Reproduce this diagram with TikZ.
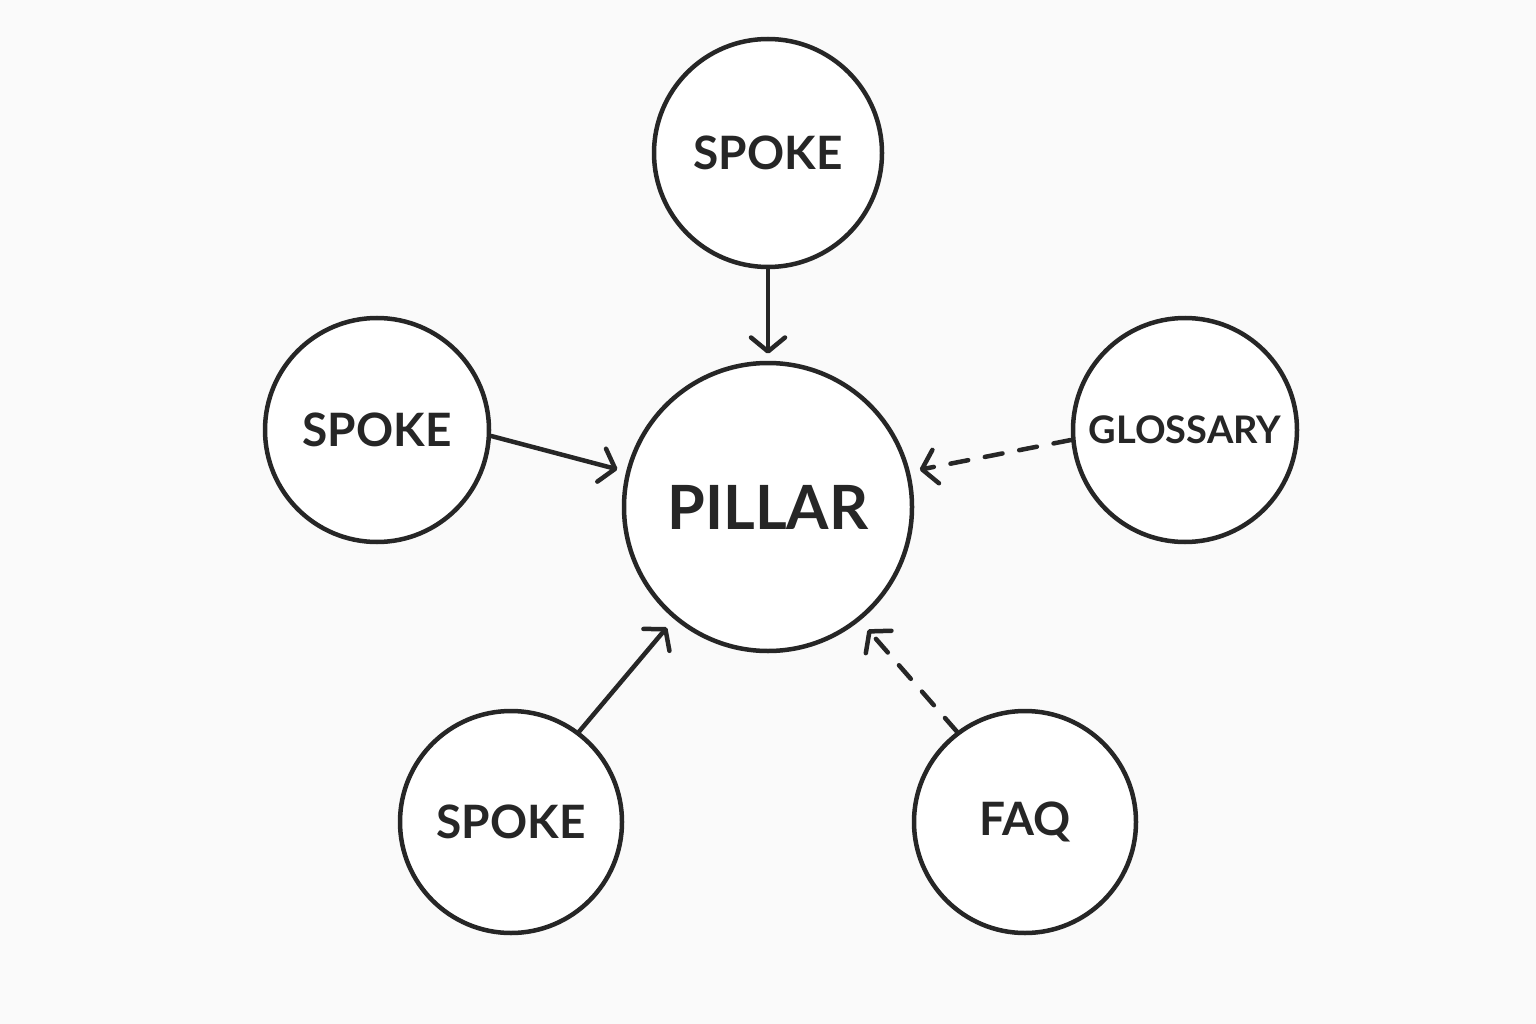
\documentclass[tikz,border=0pt]{standalone}
\usepackage{fontspec}
\setmainfont{Lato}
\usetikzlibrary{arrows.meta,calc}
\definecolor{ink}{HTML}{262626}
\definecolor{bg}{HTML}{FAFAFA}
\tikzset{
  x=1pt,y=-1pt,
  bubble/.style={circle,draw=ink,line width=4.5pt,fill=white,inner sep=0pt,text=ink,font=\bfseries},
  arr/.style={draw=ink,line width=4.5pt,line cap=round,-{Straight Barb[length=14pt,width=34pt,line cap=round,line join=round]}},
  dsh/.style={arr,dash pattern=on 18pt off 17pt}
}
\begin{document}
\begin{tikzpicture}
\fill[bg] (0,0) rectangle (1536,1024);
\useasboundingbox (0,0) rectangle (1536,1024);
\node[bubble,minimum size=288pt,font=\bfseries\fontsize{61}{61}\selectfont] (P) at (768,507) {PILLAR};
\node[bubble,minimum size=228pt,font=\bfseries\fontsize{46}{46}\selectfont] (T) at (768,153) {SPOKE};
\node[bubble,minimum size=224pt,font=\bfseries\fontsize{46}{46}\selectfont] (L) at (377,430) {SPOKE};
\node[bubble,minimum size=224pt,font=\bfseries\fontsize{38}{38}\selectfont] (G) at (1185,430) {GLOSSARY};
\node[bubble,minimum size=222pt,font=\bfseries\fontsize{46}{46}\selectfont] (B) at (511,822) {SPOKE};
\node[bubble,minimum size=222pt,font=\bfseries\fontsize{46}{46}\selectfont] (F) at (1025,822) {FAQ};
\draw[arr,shorten >=7pt] (T.south) -- (P.north);
\draw[arr,shorten >=9pt] (L.-3.5) -- (P.166);
\draw[arr,shorten >=11pt] (B.53) -- (P.230);
\draw[dsh,shorten >=10pt] (G.185) -- (P.14);
\draw[dsh,shorten >=12pt] (F.127) -- (P.-51);
\end{tikzpicture}
\end{document}
